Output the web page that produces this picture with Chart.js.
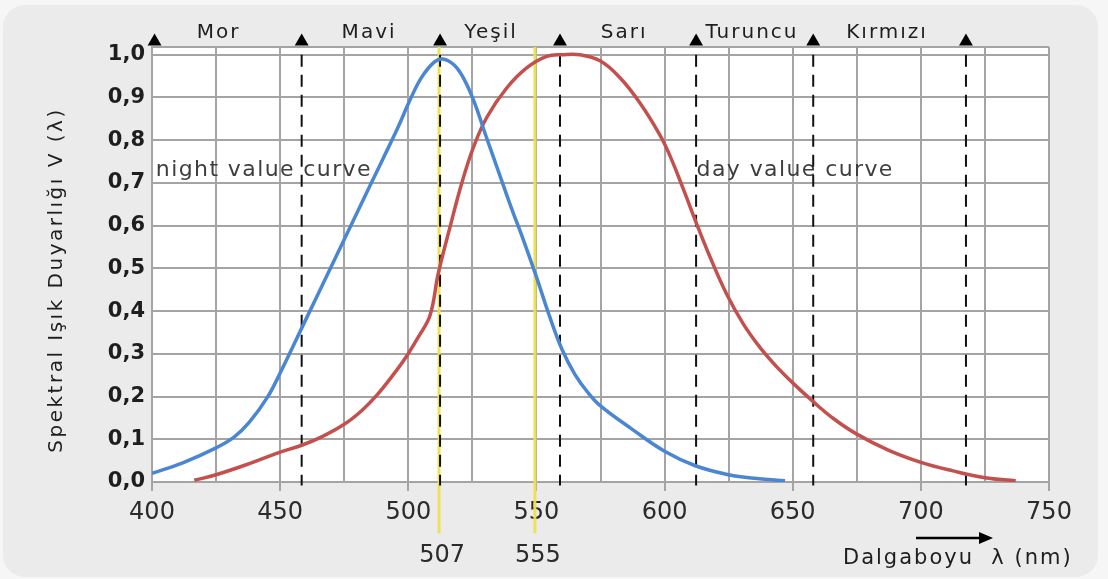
<!DOCTYPE html>
<html>
<head>
<meta charset="utf-8">
<script src="https://cdn.jsdelivr.net/npm/chart.js@4.4.0/dist/chart.umd.min.js"></script>
<style>
  html, body { margin: 0; padding: 0; background: #f6f6f6; }
</style>
</head>
<body>
<canvas id="chart" width="1108" height="579"></canvas>
<script>
// scotopic (night) curve
const nightNm = [400, 412, 425, 432, 438, 445, 450, 460, 470, 480, 490, 496, 500, 505, 510, 513.5, 518, 522, 526, 530, 535, 540, 545, 550, 555, 560, 565, 570, 575, 587, 600, 612, 625, 636, 647];
const nightV = [0.02, 0.045, 0.08, 0.105, 0.14, 0.198, 0.255, 0.38, 0.505, 0.63, 0.755, 0.83, 0.885, 0.945, 0.982, 0.99, 0.975, 0.94, 0.885, 0.815, 0.73, 0.645, 0.565, 0.48, 0.39, 0.31, 0.252, 0.21, 0.178, 0.125, 0.072, 0.038, 0.017, 0.008, 0.003];

// photopic (day) curve
const dayNm = [416.5, 425, 438, 450, 458.4, 466, 475, 482, 488, 494, 499.4, 504, 508.5, 511.7, 516.3, 520.8, 525.4, 530.6, 538.4, 546.2, 554, 560, 567, 575, 582.6, 590.4, 598.2, 602, 607.3, 612.2, 617.7, 624.2, 630.7, 637.2, 643.7, 650, 658, 666, 675, 687.5, 700, 712.5, 725, 737];
const dayV = [0.004, 0.017, 0.043, 0.07, 0.086, 0.105, 0.135, 0.168, 0.205, 0.25, 0.295, 0.34, 0.39, 0.488, 0.597, 0.698, 0.783, 0.853, 0.922, 0.969, 0.996, 1.0, 1.0, 0.985, 0.946, 0.887, 0.812, 0.765, 0.686, 0.609, 0.527, 0.44, 0.37, 0.315, 0.27, 0.232, 0.188, 0.148, 0.112, 0.074, 0.046, 0.026, 0.01, 0.003];

// colour bands along the top
const bandEdges = [401, 458.4, 512.4, 559.2, 612.3, 658, 717.6];
const bandNames = ["Mor", "Mavi", "Yeşil", "Sarı", "Turuncu", "Kırmızı"];
const bandLabelNm = [426, 484.7, 532.3, 584.2, 634.1, 686.8];
const dashedNm = [458.4, 512.4, 559.2, 612.3, 658, 717.6];

// yellow peak markers (where they sit in the picture) and their labels
const peakNm = [512, 549.4];
const peakLabels = ["507", "555"];

const xTicks = [400, 450, 500, 550, 600, 650, 700, 750];
const xGrid = [400, 425, 450, 475, 500, 525, 550, 575, 600, 625, 650, 675, 700, 725, 750];
const yTicks = [0, 0.1, 0.2, 0.3, 0.4, 0.5, 0.6, 0.7, 0.8, 0.9, 1.0];

const FONT = "'DejaVu Sans', sans-serif";
const gridColor = '#a4a4a4';
const yMax = 1.018;

const toPoints = (xs, ys) => xs.map((x, i) => ({ x: x, y: ys[i] }));
const vline = (x, y0, y1) => [{ x: x, y: y0 }, { x: x, y: y1 }];

const datasets = [
  { data: toPoints(nightNm, nightV), borderColor: '#4a86d1', borderWidth: 3.5, pointRadius: 0, tension: 0.4, order: 0 },
  { data: toPoints(dayNm, dayV), borderColor: '#c4504e', borderWidth: 3.5, pointRadius: 0, tension: 0.4, order: 0 },
  { data: bandEdges.map(nm => ({ x: nm, y: 1.031 })), showLine: false, pointStyle: 'triangle', pointRadius: 8, pointBackgroundColor: '#000', pointBorderWidth: 0, clip: false, order: 0 }
];
dashedNm.forEach(nm => datasets.push({
  data: vline(nm, 1.0, -0.008), borderColor: '#111', borderWidth: 2, borderDash: [12, 8], pointRadius: 0, clip: false, order: 1
}));
peakNm.forEach(nm => datasets.push({
  data: vline(nm, yMax, -0.12), borderColor: 'rgba(238,224,80,0.95)', borderWidth: 3, pointRadius: 0, clip: false, order: 2
}));

function text(ctx, s, x, y, size, opts) {
  opts = opts || {};
  ctx.save();
  ctx.font = (opts.weight || 'normal') + ' ' + size + 'px ' + FONT;
  ctx.fillStyle = opts.color || '#222';
  ctx.textAlign = opts.align || 'left';
  ctx.textBaseline = opts.baseline || 'alphabetic';
  if ('letterSpacing' in ctx) ctx.letterSpacing = (opts.spacing || 0) + 'px';
  ctx.translate(x, y);
  if (opts.rotate) ctx.rotate(opts.rotate);
  ctx.fillText(s, 0, 0);
  ctx.restore();
}

function roundRect(ctx, x, y, w, h, r) {
  ctx.beginPath();
  ctx.moveTo(x + r, y);
  ctx.arcTo(x + w, y, x + w, y + h, r);
  ctx.arcTo(x + w, y + h, x, y + h, r);
  ctx.arcTo(x, y + h, x, y, r);
  ctx.arcTo(x, y, x + w, y, r);
  ctx.closePath();
}

const decor = {
  id: 'decor',
  beforeDraw(chart) {
    const { ctx, chartArea: a } = chart;
    ctx.save();
    ctx.fillStyle = '#f6f6f6';
    ctx.fillRect(0, 0, chart.width, chart.height);
    ctx.fillStyle = '#ebebeb';
    roundRect(ctx, 3, 5, 1095, 572, 22);
    ctx.fill();
    ctx.fillStyle = '#fff';
    ctx.fillRect(a.left, a.top, a.right - a.left, a.bottom - a.top);
    ctx.restore();
  },
  beforeDatasetsDraw(chart) {
    const { ctx, scales: { x } } = chart;
    text(ctx, 'night value curve', x.getPixelForValue(401.5), 176, 22, { color: '#3e3e3e', spacing: 1.4 });
    text(ctx, 'day value curve', x.getPixelForValue(612.5), 176, 22, { color: '#3e3e3e', spacing: 1.4 });
  },
  afterDraw(chart) {
    const { ctx, chartArea: a, scales: { x } } = chart;
    bandNames.forEach((n, i) => {
      text(ctx, n, x.getPixelForValue(bandLabelNm[i]), a.top - 9, 20, { align: 'center', spacing: 2, color: '#1e1e1e' });
    });
    peakLabels.forEach((l, i) => {
      text(ctx, l, x.getPixelForValue(peakNm[i]) + 3, 556, 24, { align: 'center', baseline: 'middle', color: '#2b2b2b' });
    });
    text(ctx, 'Spektral Işık Duyarlığı V (λ)', 62, 280, 20, { align: 'center', rotate: -Math.PI / 2, spacing: 2.5, color: '#1e1e1e' });
    text(ctx, 'Dalgaboyu  λ (nm)', 843, 564, 21, { spacing: 2, color: '#1e1e1e' });
    // arrow over the axis title
    ctx.save();
    ctx.strokeStyle = '#000';
    ctx.fillStyle = '#000';
    ctx.lineWidth = 2.5;
    ctx.beginPath();
    ctx.moveTo(916, 538);
    ctx.lineTo(982, 538);
    ctx.stroke();
    ctx.beginPath();
    ctx.moveTo(993, 538);
    ctx.lineTo(979, 532);
    ctx.lineTo(979, 544);
    ctx.closePath();
    ctx.fill();
    ctx.restore();
  }
};

new Chart(document.getElementById('chart'), {
  type: 'line',
  data: { datasets: datasets },
  plugins: [decor],
  options: {
    responsive: false,
    animation: false,
    layout: { padding: { top: 47, right: 59, bottom: 0, left: 0 } },
    plugins: { legend: { display: false }, tooltip: { enabled: false } },
    scales: {
      x: {
        type: 'linear', min: 400, max: 750,
        afterBuildTicks: s => { s.ticks = xGrid.map(v => ({ value: v })); },
        afterFit: s => { s.height = 97; },
        ticks: {
          autoSkip: false, maxRotation: 0, padding: 7, color: '#2b2b2b',
          font: { family: FONT, size: 24 },
          callback: v => xTicks.includes(v) ? String(v) : ''
        },
        grid: {
          color: gridColor, lineWidth: 2, tickLength: 9,
          tickColor: c => (c.tick && xTicks.includes(c.tick.value)) ? gridColor : 'rgba(0,0,0,0)'
        },
        border: { color: gridColor, width: 2 }
      },
      y: {
        type: 'linear', min: 0, max: yMax,
        afterBuildTicks: s => { s.ticks = yTicks.concat([yMax]).map(v => ({ value: v })); },
        afterFit: s => { s.width = 152; },
        ticks: {
          padding: 7, color: '#1e1e1e',
          font: { family: FONT, size: 21, weight: 'bold' },
          callback: v => yTicks.includes(v) ? v.toFixed(1).replace('.', ',') : ''
        },
        grid: { color: gridColor, lineWidth: 2, drawTicks: false },
        border: { color: gridColor, width: 2 }
      }
    }
  }
});
</script>
</body>
</html>
